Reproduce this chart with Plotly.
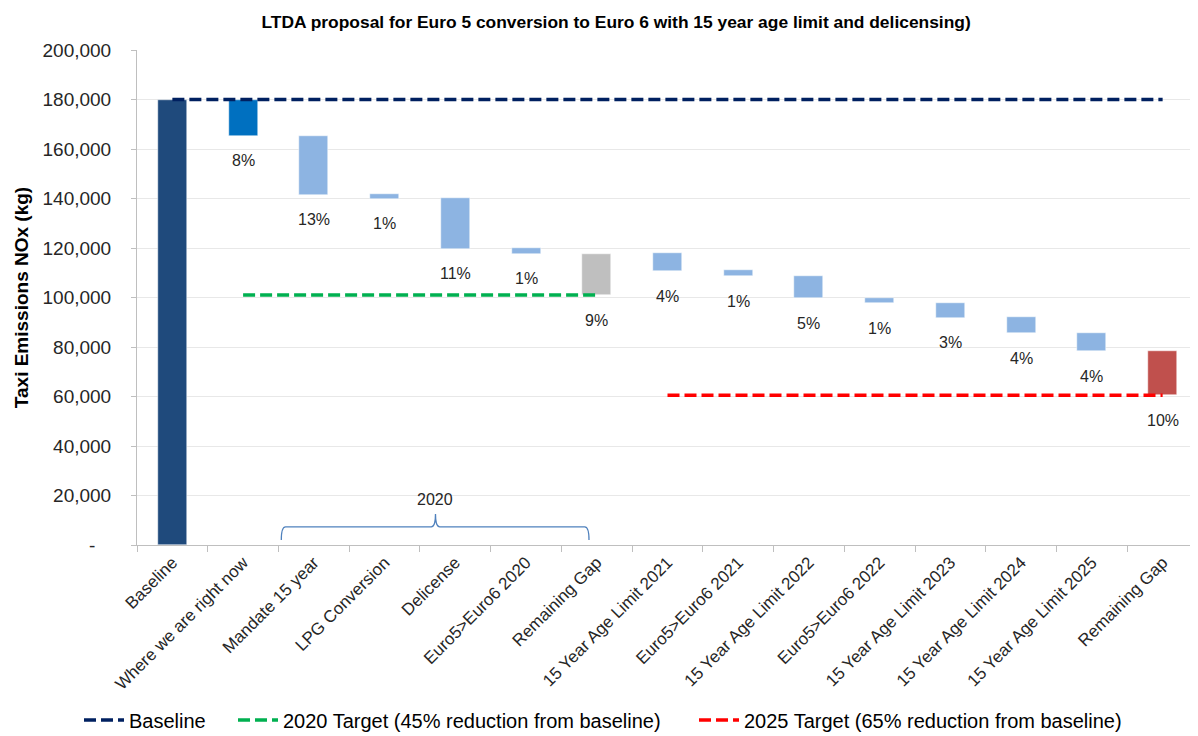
import plotly.graph_objects as go

categorias = ["Baseline", "Where we are right now", "Mandate 15 year", "LPG Conversion",
              "Delicense", "Euro5>Euro6 2020", "Remaining Gap", "15 Year Age Limit 2021",
              "Euro5>Euro6 2021", "15 Year Age Limit 2022", "Euro5>Euro6 2022",
              "15 Year Age Limit 2023", "15 Year Age Limit 2024", "15 Year Age Limit 2025",
              "Remaining Gap"]
arriba = [180000, 180000, 165400, 141900, 140300, 120000, 117700, 118000, 111000,
          108700, 100000, 97900, 92200, 85800, 78300]
abajo = [0, 165300, 141600, 140000, 119700, 117700, 100900, 110600, 108500,
         99700, 97600, 91900, 85500, 78200, 60500]
etiquetas = ["", "8%", "13%", "1%", "11%", "1%", "9%", "4%", "1%", "5%", "1%",
             "3%", "4%", "4%", "10%"]
colores = ["#1F4A7C", "#0070C0"] + ["#8DB4E2"] * 4 + ["#BFBFBF"] + ["#8DB4E2"] * 7 + ["#C0504D"]

linea_base = 180000
meta_2020 = 101000
meta_2025 = 60500

y_ticks = list(range(0, 200001, 20000))
y_text = ["-\u00a0\u00a0\u00a0"] + [f"{v:,}" for v in y_ticks[1:]]

x = list(range(len(categorias)))
alturas = [a - b for a, b in zip(arriba, abajo)]

fig = go.Figure()

fig.add_trace(go.Bar(x=x, y=alturas, base=abajo, width=0.41,
                     marker=dict(color=colores, line=dict(color="white", width=0.5)),
                     showlegend=False, hoverinfo="skip"))

fig.add_trace(go.Scatter(x=[0, 14], y=[linea_base, linea_base], mode="lines",
                         line=dict(color="#002060", width=3.5, dash="12px,5px"),
                         name="Baseline", legend="legend"))
fig.add_trace(go.Scatter(x=[1, 6], y=[meta_2020, meta_2020], mode="lines",
                         line=dict(color="#00B050", width=3.5, dash="12px,5px"),
                         name="2020 Target (45% reduction from baseline)", legend="legend2"))
fig.add_trace(go.Scatter(x=[7, 14], y=[meta_2025, meta_2025], mode="lines",
                         line=dict(color="#FF0000", width=3.5, dash="12px,5px"),
                         name="2025 Target (65% reduction from baseline)", legend="legend3"))

# etiquetas de porcentaje debajo de cada barra
for i, t in enumerate(etiquetas):
    if t:
        fig.add_annotation(x=i, y=abajo[i], text=t, showarrow=False, yshift=-25,
                           font=dict(size=16, color="#262626"))

# llave de 2020
x0, x1, xc = 1.54, 5.89, 3.72
yb, yt, yp = 2000, 7300, 12500
dx = 0.06
path = (f"M {x0},{yb} Q {x0},{yt} {x0+dx},{yt} L {xc-dx},{yt} Q {xc},{yt} {xc},{yp} "
        f"Q {xc},{yt} {xc+dx},{yt} L {x1-dx},{yt} Q {x1},{yt} {x1},{yb}")
fig.add_shape(type="path", path=path, xref="x", yref="y",
              line=dict(color="#4F81BD", width=1.3))
fig.add_annotation(x=xc, y=yp, text="2020", showarrow=False, yshift=15,
                   font=dict(size=16, color="#262626"))

# la pagina tiene 8px de margen, la figura se hace 8px mas chica
leyenda = dict(orientation="h", xref="container", yref="container", xanchor="left",
               y=0.022, yanchor="middle", font=dict(size=20, color="black"),
               itemwidth=40, bgcolor="rgba(0,0,0,0)")

fig.update_layout(
    width=1190, height=728,
    margin=dict(l=129, r=0, t=42, b=191),
    paper_bgcolor="white", plot_bgcolor="white",
    font=dict(family="Liberation Sans, Arial, sans-serif", color="#262626"),
    title=dict(text="<b>LTDA proposal for Euro 5 conversion to Euro 6 with 15 year age limit and delicensing)</b>",
               x=0.511, xanchor="center", y=0.981, yanchor="middle", font=dict(size=17.4, color="black")),
    legend=dict(leyenda, x=71 / 1190),
    legend2=dict(leyenda, x=225 / 1190),
    legend3=dict(leyenda, x=686 / 1190),
    bargap=0,
)

fig.update_xaxes(range=[-0.5, 14.5], tickmode="array", tickvals=x, ticktext=categorias,
                 tickangle=-45, ticks="", tickfont=dict(size=17, color="#262626"),
                 automargin=False,
                 showline=True, linecolor="#BFBFBF", linewidth=1, showgrid=False, zeroline=False,
                 minor=dict(tickmode="linear", tick0=0.5, dtick=1, ticks="outside",
                            ticklen=6, tickcolor="#BFBFBF", showgrid=False))
fig.update_yaxes(range=[0, 200000], tickmode="array", tickvals=y_ticks, ticktext=y_text,
                 tickfont=dict(size=19, color="#262626"), ticks="outside", ticklen=5,
                 tickcolor="#BFBFBF", showline=True, linecolor="#BFBFBF", linewidth=1,
                 ticklabelstandoff=16, automargin=False,
                 showgrid=True, gridcolor="#E8E8E8", zeroline=False,
                 title=dict(text="<b>Taxi Emissions NOx (kg)</b>", font=dict(size=19, color="black"),
                            standoff=8))

fig.write_html("out.html")
